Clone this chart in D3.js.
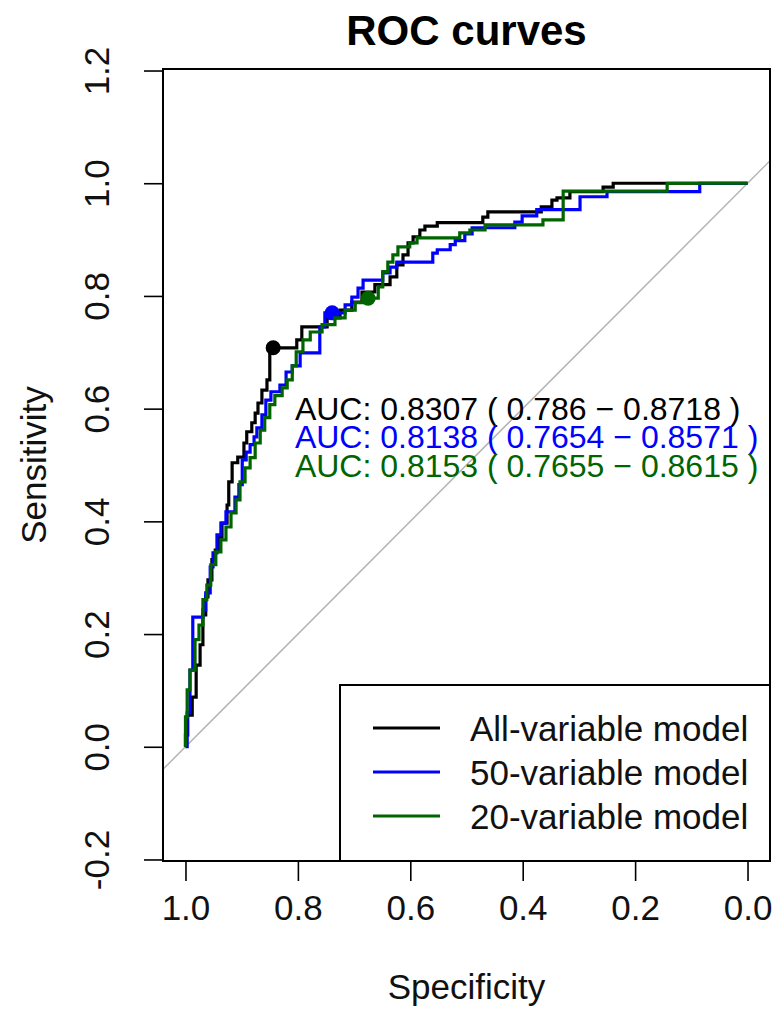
<!DOCTYPE html>
<html>
<head>
<meta charset="utf-8">
<script src="https://cdn.jsdelivr.net/npm/d3@7"></script>
<style>
  html, body { margin: 0; padding: 0; background: #fff; }
  svg text { font-family: "Liberation Sans", Arial, sans-serif; }
</style>
</head>
<body>
<div id="chart"></div>
<script>
// ROC curves for three models (specificity reversed on x, sensitivity on y)
const xTicks = [1.0, 0.8, 0.6, 0.4, 0.2, 0.0];
const yTicks = [-0.2, 0.0, 0.2, 0.4, 0.6, 0.8, 1.0, 1.2];

const allSpec = [1, 0.996, 0.988, 0.981, 0.974, 0.969, 0.964, 0.960, 0.953, 0.947, 0.940, 0.935, 0.926, 0.923, 0.917, 0.907, 0.896, 0.891, 0.882, 0.876, 0.871, 0.864, 0.855, 0.850, 0.802, 0.793, 0.748, 0.725, 0.704, 0.686, 0.663, 0.636, 0.624, 0.613, 0.604, 0.595, 0.583, 0.574, 0.552, 0.471, 0.462, 0.367, 0.348, 0.339, 0.316, 0.257, 0.239, 0];
const allSens = [0, 0.021, 0.056, 0.088, 0.145, 0.181, 0.234, 0.266, 0.296, 0.332, 0.349, 0.372, 0.397, 0.429, 0.470, 0.504, 0.514, 0.539, 0.559, 0.575, 0.592, 0.610, 0.633, 0.651, 0.708, 0.722, 0.745, 0.761, 0.775, 0.789, 0.807, 0.820, 0.834, 0.855, 0.873, 0.894, 0.905, 0.917, 0.924, 0.930, 0.940, 0.949, 0.958, 0.970, 0.974, 0.985, 0.993, 1];

const v50Spec = [1, 0.997, 0.992, 0.987, 0.969, 0.964, 0.956, 0.951, 0.944, 0.937, 0.928, 0.912, 0.905, 0.899, 0.892, 0.885, 0.878, 0.873, 0.864, 0.857, 0.848, 0.832, 0.821, 0.810, 0.796, 0.761, 0.752, 0.716, 0.704, 0.693, 0.684, 0.649, 0.636, 0.624, 0.560, 0.552, 0.529, 0.520, 0.503, 0.490, 0.414, 0.401, 0.375, 0.298, 0.250, 0.085, 0];
const v50Sens = [0, 0, 0.060, 0.136, 0.230, 0.243, 0.273, 0.319, 0.344, 0.376, 0.397, 0.417, 0.443, 0.465, 0.509, 0.523, 0.536, 0.550, 0.566, 0.589, 0.615, 0.630, 0.642, 0.665, 0.676, 0.699, 0.745, 0.770, 0.784, 0.798, 0.814, 0.828, 0.841, 0.851, 0.860, 0.876, 0.882, 0.891, 0.898, 0.910, 0.921, 0.931, 0.942, 0.953, 0.976, 0.985, 1];

const v20Spec = [1, 0.997, 0.992, 0.983, 0.976, 0.969, 0.962, 0.955, 0.946, 0.937, 0.928, 0.919, 0.910, 0.903, 0.894, 0.885, 0.876, 0.867, 0.859, 0.850, 0.841, 0.828, 0.819, 0.810, 0.803, 0.791, 0.778, 0.757, 0.734, 0.716, 0.698, 0.681, 0.657, 0.649, 0.640, 0.631, 0.622, 0.601, 0.588, 0.512, 0.494, 0.467, 0.364, 0.328, 0.143, 0];
const v20Sens = [0, 0.053, 0.101, 0.136, 0.190, 0.216, 0.261, 0.287, 0.323, 0.346, 0.367, 0.390, 0.415, 0.438, 0.470, 0.495, 0.513, 0.539, 0.562, 0.584, 0.607, 0.623, 0.637, 0.651, 0.676, 0.701, 0.722, 0.736, 0.749, 0.761, 0.775, 0.788, 0.796, 0.816, 0.843, 0.860, 0.873, 0.887, 0.894, 0.903, 0.912, 0.917, 0.926, 0.935, 0.986, 1];

const bestSpec = [0.844, 0.739, 0.675];
const bestSens = [0.708, 0.770, 0.796];

const modelNames = ["All-variable model", "50-variable model", "20-variable model"];
const modelColors = ["#000000", "#0000ff", "#006400"];
const aucLabels = [
  "AUC: 0.8307 ( 0.786 \u2212 0.8718 )",
  "AUC: 0.8138 ( 0.7654 \u2212 0.8571 )",
  "AUC: 0.8153 ( 0.7655 \u2212 0.8615 )"
];
const aucY = [0.6, 0.55, 0.5];

const width = 774, height = 1011;
const box = {left: 163, right: 770, top: 69, bottom: 861};

const svg = d3.select("#chart").append("svg")
  .attr("width", width)
  .attr("height", height);

const x = d3.scaleLinear().domain([1.04, -0.04]).range([box.left, box.right]);
const y = d3.scaleLinear().domain([-0.2027, 1.2027]).range([box.bottom, box.top]);

// Title
svg.append("text")
  .attr("x", (box.left + box.right) / 2)
  .attr("y", 45)
  .attr("text-anchor", "middle")
  .style("font-size", "42px")
  .style("font-weight", "bold")
  .text("ROC curves");

// Axes
const xAxis = svg.append("g")
  .attr("transform", `translate(0,${box.bottom})`)
  .call(d3.axisBottom(x).tickValues(xTicks).tickSize(20).tickFormat(d => d.toFixed(1)));
xAxis.select(".domain").remove();
xAxis.selectAll("line").attr("stroke", "#000").attr("stroke-width", 1.6);
xAxis.selectAll("text")
  .attr("y", 59).attr("dy", null)
  .attr("fill", "#111")
  .style("font-size", "35px");

const yAxis = svg.append("g")
  .attr("transform", `translate(${box.left},0)`)
  .call(d3.axisLeft(y).tickValues(yTicks).tickSize(19).tickFormat(d => d.toFixed(1)));
yAxis.select(".domain").remove();
yAxis.selectAll("line").attr("stroke", "#000").attr("stroke-width", 1.6);
yAxis.selectAll("text")
  .attr("x", 0).attr("dy", null)
  .attr("y", -54)
  .attr("transform", "rotate(-90)")
  .attr("text-anchor", "middle")
  .attr("fill", "#111")
  .style("font-size", "35px");

// Axis titles
svg.append("text")
  .attr("x", (box.left + box.right) / 2)
  .attr("y", 999)
  .attr("text-anchor", "middle")
  .attr("fill", "#111")
  .style("font-size", "35px")
  .text("Specificity");

svg.append("text")
  .attr("transform", `translate(46,${(box.top + box.bottom) / 2}) rotate(-90)`)
  .attr("text-anchor", "middle")
  .attr("fill", "#111")
  .style("font-size", "35px")
  .text("Sensitivity");

// Chance diagonal
svg.append("line")
  .attr("x1", x(1.04)).attr("y1", y(-0.04))
  .attr("x2", x(-0.04)).attr("y2", y(1.04))
  .attr("stroke", "#b4b4b4")
  .attr("stroke-width", 1.5);

const line = d3.line()
  .x(d => x(d[0]))
  .y(d => y(d[1]))
  .curve(d3.curveStepBefore);

const curves = [
  d3.zip(allSpec, allSens),
  d3.zip(v50Spec, v50Sens),
  d3.zip(v20Spec, v20Sens)
];

curves.forEach((pts, i) => {
  svg.append("path")
    .datum(pts)
    .attr("fill", "none")
    .attr("stroke", modelColors[i])
    .attr("stroke-width", 3.2)
    .attr("stroke-linejoin", "miter")
    .attr("d", line);

  svg.append("circle")
    .attr("cx", x(bestSpec[i]))
    .attr("cy", y(bestSens[i]))
    .attr("r", 7.5)
    .attr("fill", modelColors[i]);
});

// AUC labels
aucLabels.forEach((t, i) => {
  svg.append("text")
    .attr("x", x(0.8) - 3)
    .attr("y", y(aucY[i]))
    .attr("dy", "0.36em")
    .attr("fill", modelColors[i])
    .style("font-size", "32px")
    .text(t);
});

// Plot box
svg.append("rect")
  .attr("x", box.left).attr("y", box.top)
  .attr("width", box.right - box.left)
  .attr("height", box.bottom - box.top)
  .attr("fill", "none")
  .attr("stroke", "#000")
  .attr("stroke-width", 2);

// Legend
const legend = svg.append("g");
legend.append("rect")
  .attr("x", 340).attr("y", 685)
  .attr("width", box.right - 340)
  .attr("height", box.bottom - 685)
  .attr("fill", "#fff")
  .attr("stroke", "#000")
  .attr("stroke-width", 2);

modelNames.forEach((name, i) => {
  const ly = 728 + i * 44;
  legend.append("line")
    .attr("x1", 373).attr("x2", 440)
    .attr("y1", ly).attr("y2", ly)
    .attr("stroke", modelColors[i])
    .attr("stroke-width", 3.2);
  legend.append("text")
    .attr("x", 470)
    .attr("y", ly)
    .attr("dy", "0.36em")
    .attr("fill", "#111")
    .style("font-size", "35px")
    .text(name);
});
</script>
</body>
</html>
